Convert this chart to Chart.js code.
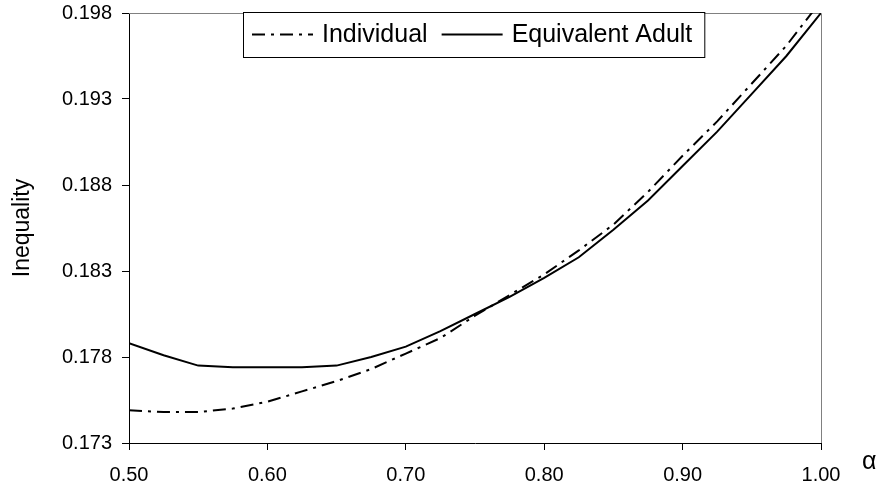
<!DOCTYPE html>
<html>
<head>
<meta charset="utf-8">
<script src="https://cdn.jsdelivr.net/npm/chart.js@4"></script>
<style>
  body { margin: 0; background: #fff; }
</style>
</head>
<body>
<canvas id="inequalityChart" width="885" height="488"></canvas>
<script>
const alphas = [0.500, 0.525, 0.550, 0.575, 0.600, 0.625, 0.650, 0.675, 0.700, 0.725, 0.750,
                0.775, 0.800, 0.825, 0.850, 0.875, 0.900, 0.925, 0.950, 0.975, 1.000];
const individual = [0.1749, 0.1748, 0.1748, 0.1750, 0.1754, 0.1760, 0.1766, 0.1773, 0.1782, 0.1791, 0.1804,
                    0.1816, 0.1828, 0.1842, 0.1857, 0.1876, 0.1897, 0.1917, 0.1939, 0.1961, 0.1987];
const equivalentAdult = [0.1788, 0.1781, 0.1775, 0.1774, 0.1774, 0.1774, 0.1775, 0.1780, 0.1786, 0.1795, 0.1805,
                         0.1815, 0.1826, 0.1838, 0.1854, 0.1871, 0.1891, 0.1911, 0.1933, 0.1955, 0.1980];
const xTicks = [0.5, 0.6, 0.7, 0.8, 0.9, 1.0];
const yTicks = [0.173, 0.178, 0.183, 0.188, 0.193, 0.198];

const FONT = "'Liberation Sans', Arial, sans-serif";

function toPoints(ys) {
    return alphas.map((a, i) => ({ x: a, y: ys[i] }));
}

// gray top/right edges of the plot frame
const framePlugin = {
    id: 'frame',
    beforeDatasetsDraw(chart) {
        const { ctx, chartArea: a } = chart;
        ctx.save();
        ctx.strokeStyle = '#808080';
        ctx.lineWidth = 1;
        ctx.beginPath();
        ctx.moveTo(a.left, a.top + 0.5);
        ctx.lineTo(a.right + 0.5, a.top + 0.5);
        ctx.lineTo(a.right + 0.5, a.bottom);
        ctx.stroke();
        ctx.restore();
    }
};

// boxed legend sitting inside the plot, plus the alpha axis label
const legendBoxPlugin = {
    id: 'legendBox',
    afterDraw(chart) {
        const { ctx, chartArea: a } = chart;
        const sampleW = 61;
        const left = a.left + 114;
        const top = a.top - 1;
        const h = 45;
        ctx.save();
        ctx.font = '25px ' + FONT;
        let width = 9;
        chart.data.datasets.forEach((ds, i) => {
            width += sampleW + 9 + ctx.measureText(ds.label).width + (i < chart.data.datasets.length - 1 ? 14 : 12);
        });
        ctx.fillStyle = '#fff';
        ctx.fillRect(left, top, width, h);
        ctx.strokeStyle = '#000';
        ctx.lineWidth = 1;
        ctx.strokeRect(left + 0.5, top + 0.5, width, h);

        const cy = top + h / 2;
        let x = left + 9;
        chart.data.datasets.forEach(ds => {
            ctx.beginPath();
            ctx.setLineDash(ds.borderDash || []);
            ctx.lineWidth = ds.borderWidth;
            ctx.strokeStyle = ds.borderColor;
            ctx.moveTo(x, cy);
            ctx.lineTo(x + sampleW, cy);
            ctx.stroke();
            ctx.setLineDash([]);
            x += sampleW + 9;
            ctx.fillStyle = '#000';
            ctx.textBaseline = 'middle';
            ctx.textAlign = 'left';
            ctx.fillText(ds.label, x, cy + 1);
            x += ctx.measureText(ds.label).width + 14;
        });

        const xs = chart.scales.x;
        ctx.font = '25px ' + FONT;
        ctx.textBaseline = 'middle';
        ctx.fillText('α', xs.right + 41, xs.top + 19);
        ctx.restore();
    }
};

const ctx = document.getElementById('inequalityChart').getContext('2d');
new Chart(ctx, {
    type: 'line',
    data: {
        datasets: [{
            label: 'Individual',
            data: toPoints(individual),
            borderColor: '#000',
            borderWidth: 2,
            borderDash: [13, 6, 3, 6],
            pointRadius: 0,
            fill: false,
            tension: 0
        }, {
            label: 'Equivalent Adult',
            data: toPoints(equivalentAdult),
            borderColor: '#000',
            borderWidth: 2,
            pointRadius: 0,
            fill: false,
            tension: 0
        }]
    },
    options: {
        responsive: false,
        animation: false,
        layout: { padding: { top: 13, right: 64, left: 0, bottom: 0 } },
        plugins: {
            legend: { display: false },
            tooltip: { enabled: false }
        },
        scales: {
            x: {
                type: 'linear',
                min: 0.5,
                max: 1.0,
                afterBuildTicks: s => { s.ticks = xTicks.map(v => ({ value: v })); },
                afterFit: s => { s.height = 45; },
                ticks: {
                    callback: v => v.toFixed(2),
                    font: { family: FONT, size: 20 },
                    color: '#000',
                    padding: 13,
                    maxRotation: 0,
                    autoSkip: false
                },
                grid: { display: true, drawOnChartArea: false, tickLength: 7, color: '#000' },
                border: { color: '#000', width: 1 }
            },
            y: {
                min: 0.173,
                max: 0.198,
                afterBuildTicks: s => { s.ticks = yTicks.map(v => ({ value: v })); },
                afterFit: s => { s.width = 129; s.paddingTop = 0; s.paddingBottom = 0; },
                ticks: {
                    callback: v => v.toFixed(3),
                    font: { family: FONT, size: 20 },
                    color: '#000',
                    padding: 10
                },
                grid: { display: true, drawOnChartArea: false, tickLength: 7, color: '#000' },
                border: { color: '#000', width: 1 },
                title: {
                    display: true,
                    text: 'Inequality',
                    font: { family: FONT, size: 23 },
                    color: '#000',
                    padding: { top: 9, bottom: 0 }
                }
            }
        }
    },
    plugins: [framePlugin, legendBoxPlugin]
});
</script>
</body>
</html>
